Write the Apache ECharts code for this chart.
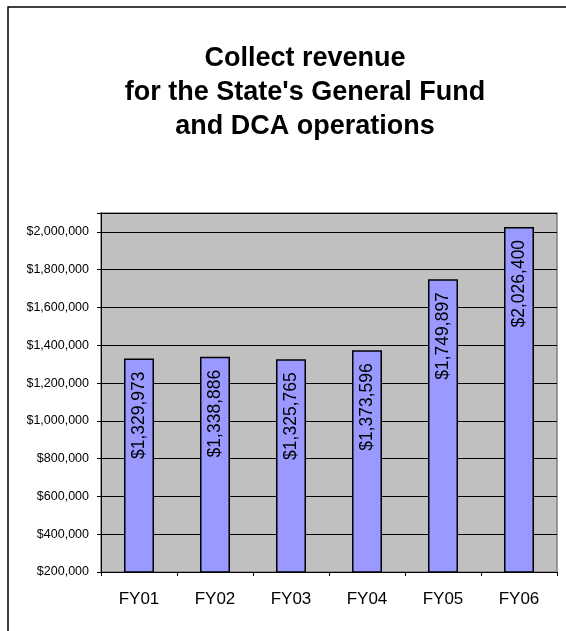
<!DOCTYPE html>
<html>
<head>
<meta charset="utf-8">
<script src="https://cdn.jsdelivr.net/npm/echarts@6/dist/echarts.min.js"></script>
<style>
  html, body { margin: 0; padding: 0; background: #fff; }
  #chart { width: 566px; height: 631px; }
</style>
</head>
<body>
<div id="chart"></div>
<script>
// data
const titleLines = ["Collect revenue", "for the State's General Fund", "and DCA operations"];
const categories = ["FY01", "FY02", "FY03", "FY04", "FY05", "FY06"];
const revenue = [1329973, 1338886, 1325765, 1373596, 1749897, 2026400];
const yMin = 200000;
const yMax = 2100000;
const yStep = 200000;

const money = (v) => "$" + Number(v).toLocaleString("en-US");

const chart = echarts.init(document.getElementById("chart"), null, { renderer: "canvas" });

chart.setOption({
  backgroundColor: "#fff",
  animation: false,
  textStyle: { fontFamily: "Liberation Sans, Arial, sans-serif" },
  title: {
    text: titleLines.join("\n"),
    left: 305,
    top: 42,
    padding: 0,
    textAlign: "center",
    textStyle: {
      fontFamily: "Liberation Sans, Arial, sans-serif",
      fontWeight: "bold",
      fontSize: 27,
      lineHeight: 34,
      color: "#000",
    },
  },
  // outer chart frame (runs off the right and bottom edges)
  graphic: [
    {
      type: "rect",
      shape: { x: 8, y: 7, width: 700, height: 800 },
      style: { fill: "none", stroke: "#000", lineWidth: 1.5 },
      silent: true,
    },
  ],
  grid: {
    left: 101,
    right: 9,
    top: 213,
    bottom: 59,
    show: true,
    backgroundColor: "#c0c0c0",
    borderColor: "#808080",
    borderWidth: 1.5,
  },
  xAxis: {
    type: "category",
    data: categories,
    axisLine: { lineStyle: { color: "#000", width: 1 } },
    axisTick: { show: true, alignWithLabel: false, length: 4, lineStyle: { color: "#000" } },
    axisLabel: { color: "#000", fontSize: 17, margin: 19 },
  },
  yAxis: {
    type: "value",
    min: yMin,
    max: yMax,
    interval: yStep,
    axisLine: { show: true, lineStyle: { color: "#000", width: 1 } },
    axisTick: { show: true, length: 4, lineStyle: { color: "#000" } },
    axisLabel: {
      color: "#000",
      fontSize: 12.5,
      margin: 12,
      formatter: (v) => (v > 2000000 ? "" : money(v)),
    },
    splitLine: { show: true, lineStyle: { color: "#000", width: 1 } },
  },
  series: [
    {
      type: "bar",
      data: revenue,
      barWidth: 30,
      itemStyle: { color: "#9999ff", borderColor: "#000", borderWidth: 1.5 },
      label: {
        show: true,
        position: "insideTop",
        distance: 13,
        rotate: 90,
        align: "right",
        verticalAlign: "middle",
        color: "#000",
        fontSize: 17.5,
        formatter: (p) => money(p.value),
      },
    },
  ],
});
</script>
</body>
</html>
